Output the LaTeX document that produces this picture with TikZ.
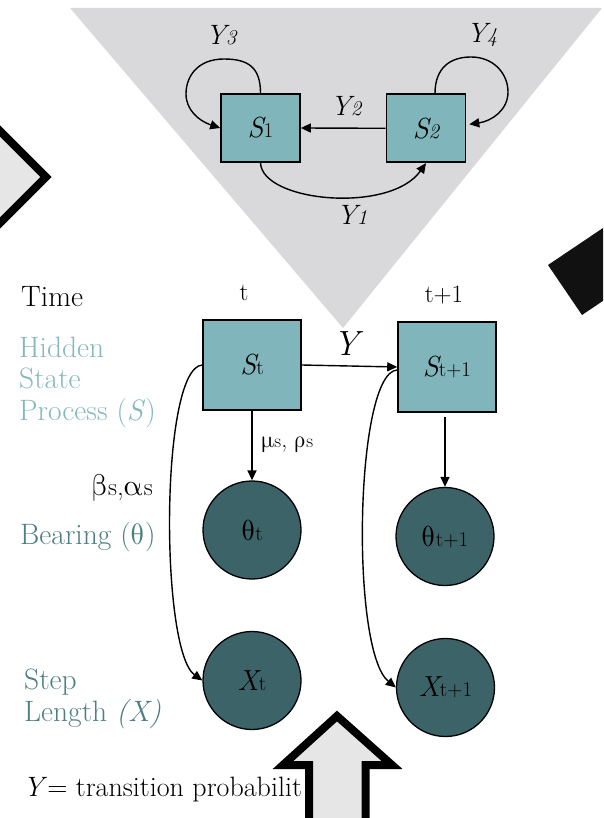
\documentclass[tikz,border=0pt]{standalone}
\usepackage{fontspec}
\usepackage{unicode-math}
\usetikzlibrary{arrows.meta,calc}
\definecolor{boxteal}{HTML}{80B5BB}
\definecolor{circteal}{HTML}{3B6368}
\definecolor{trigray}{HTML}{D9D9DB}
\definecolor{lightg}{HTML}{E6E6E6}
\definecolor{hidtxt}{HTML}{84B8BC}
\definecolor{darktxt}{HTML}{4E7E83}
\definecolor{nearblack}{HTML}{111111}
\newcommand\myfL{\fontsize{29.5}{31.5}\selectfont}
\newcommand\myfM{\fontsize{29}{29}\selectfont}
\newcommand\myfS{\fontsize{21}{21}\selectfont}
\newcommand\myfY{\fontsize{28}{28}\selectfont}
\newcommand\mygs[1]{{\fontsize{24}{24}\selectfont$\symup{#1}$}{\fontsize{19}{19}\selectfont s}}
\newcommand\mygb[1]{{\fontsize{30}{30}\selectfont$\symup{#1}$}{\fontsize{25}{25}\selectfont s}}
\tikzset{
  box/.style={draw=black, line width=1.6pt, fill=boxteal, minimum width=79pt, minimum height=68pt, inner sep=0pt},
  bigbox/.style={box, minimum width=98pt, minimum height=90pt},
  circ/.style={circle, draw=black, line width=1.3pt, fill=circteal, minimum size=98pt, inner sep=0pt},
  conn/.style={line width=1.4pt, -{Triangle[length=10pt,width=9pt]}},
  thickshape/.style={line width=8pt, draw=black, line join=miter, miter limit=10},
  lbl/.style={inner sep=0pt, text=black}
}
\begin{document}
\begin{tikzpicture}[x=1pt,y=-1pt]
\useasboundingbox (0,0) rectangle (603,818);
\clip (0,0) rectangle (603,818);
% background shapes
\fill[trigray] (70,8) -- (602,8) -- (343,328) -- cycle;
\fill[nearblack] (548,265) -- (658,191) -- (692,241) -- (582,315) -- cycle;
\filldraw[thickshape, fill=lightg] (-10,121) -- (46,177) -- (-10,233) -- cycle;

% top state diagram
\node[box] (S1) at (260.5,128) {{\myfM\itshape S}{\myfS 1}};
\node[box] (S2) at (426,128.3) {{\myfM\itshape S}{\myfS\itshape 2}};
\draw[conn] (S1.north) .. controls (260.5,68) and (249,59) .. (224,59)
  .. controls (198,59) and (186,76) .. (186,94)
  .. controls (186,110) and (199,121) .. (S1.west);
\draw[conn] ($(S2.north)+(9,0)$) .. controls (435,68) and (450,57) .. (471,57)
  .. controls (494,57) and (508,74) .. (508,92)
  .. controls (508,110) and (492,121) .. ($(S2.east)+(3,-4)$);
\draw[conn] (S2.west) -- (S1.east);
\draw[conn] (S1.south) .. controls (262,202) and (390,214) .. (S2.south);
\node[lbl] (y3) at (221,35) {{\myfY\itshape Y}{\myfS\itshape 3}};
\node[lbl] (y4) at (482,35) {{\myfY\itshape Y}{\myfS\itshape 4}};
\node[lbl] (y2) at (346,106) {{\myfY\itshape Y}{\myfS\itshape 2}};
\node[lbl] (y1) at (352,215) {{\myfY\itshape Y}{\myfS\itshape 1}};

% left labels
\node[lbl, anchor=west, font=\myfL] (time) at (21,297) {Time};
\node[lbl, anchor=west, align=left, text=hidtxt, font=\myfL] (hid) at (19,382) {Hidden\\State\\Process (\textit{S})};
\node[lbl, anchor=west, text=darktxt, font=\myfL] (bear) at (20,537) {Bearing ($\symup{\theta}$)};
\node[lbl, anchor=west, align=left, text=darktxt, font=\myfL] (step) at (24,699) {Step\\Length \textit{(X)}};
\node[lbl, font=\fontsize{25}{25}\selectfont] (tt) at (244,293) {t};
\node[lbl, font=\fontsize{25}{25}\selectfont] (tt1) at (444,295) {t+1};

% model nodes
\node[bigbox] (St) at (252,365) {{\myfM\itshape S}{\myfS t}};
\node[bigbox] (St1) at (447,367) {{\myfM\itshape S}{\myfS t+1}};
\node[circ] (th) at (252,530) {{\myfM$\symup{\theta}$}{\myfS t}};
\node[circ] (X) at (252,680.5) {{\myfM\itshape X}{\myfS t}};
\node[circ] (th1) at (445,536.5) {{\myfM$\symup{\theta}$}{\myfS t+1}};
\node[circ] (X1) at (445.5,687.5) {{\myfM\itshape X}{\myfS t+1}};

\draw[conn] (St.east) -- (St1.west);
\node[lbl, font=\fontsize{35}{35}\selectfont\itshape] (Ylab) at (346,344) {Y};
\draw[conn] (St.south) -- (th.north);
\draw[conn, shorten <=4pt] (th1.north |- St1.south) -- (th1.north);
\draw[conn] (St.west) .. controls (160,368) and (160,650) .. (X.west);
\draw[conn] ($(St1.west)+(0,3)$) .. controls (355,372) and (350,650) .. (X1.west);
\node[lbl, anchor=west] (mu) at (261,445) {\mygs{\mu}{\fontsize{24}{24}\selectfont, }\mygs{\rho}};
\node[lbl, anchor=east] (beta) at (153,488) {\mygb{\beta}{\fontsize{27}{27}\selectfont,}\mygb{\alpha}};

% bottom text and arrow
\node[lbl, anchor=west, font=\fontsize{28}{28}\selectfont] (ytext) at (23,790) {\textit{Y}= transition probabilit};
\filldraw[thickshape, fill=lightg] (337,716) -- (392,765) -- (365.5,765) -- (365.5,830) -- (309,830) -- (309,765) -- (283,765) -- cycle;
\end{tikzpicture}
\end{document}
